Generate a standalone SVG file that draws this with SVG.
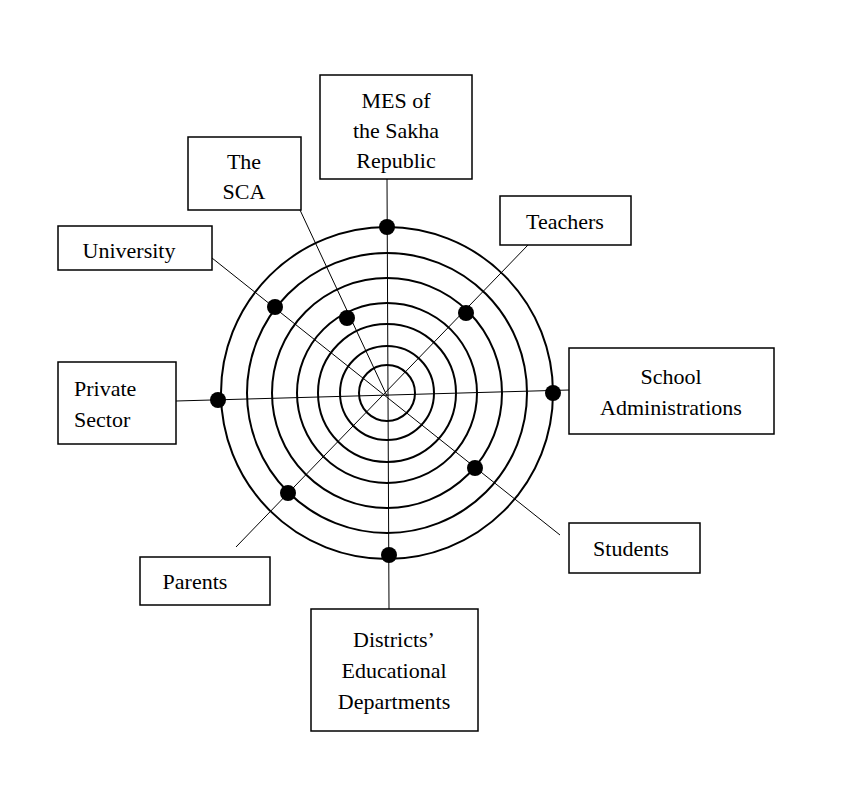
<svg xmlns="http://www.w3.org/2000/svg" width="849" height="789" viewBox="0 0 849 789">
<style>
.b{fill:#fff;stroke:#000;stroke-width:1.5}
.c{fill:none;stroke:#000;stroke-width:2}
.l{stroke:#000;stroke-width:1}
.d{fill:#000}
text{font-family:"Liberation Serif",serif;font-size:22px;text-anchor:middle}
</style>
<rect width="849" height="789" fill="#fff"/>
<g id="connectors">
<line class="l" x1="387" y1="179" x2="389" y2="609"/>
<line class="l" x1="176" y1="401" x2="569" y2="390"/>
<line class="l" x1="528" y1="245" x2="236" y2="547"/>
<line class="l" x1="212" y1="258" x2="560" y2="535"/>
<line class="l" x1="300" y1="210" x2="387" y2="396"/>
</g>
<g id="rings">
<circle class="c" cx="387" cy="393" r="28"/>
<circle class="c" cx="387" cy="393" r="47"/>
<circle class="c" cx="387" cy="393" r="69"/>
<circle class="c" cx="387" cy="393" r="90"/>
<circle class="c" cx="387" cy="393" r="115"/>
<circle class="c" cx="387" cy="393" r="140"/>
<circle class="c" cx="387" cy="393" r="166"/>
</g>
<g id="dots">
<circle class="d" cx="387" cy="227" r="8"/>
<circle class="d" cx="553" cy="393" r="8"/>
<circle class="d" cx="218" cy="400" r="8"/>
<circle class="d" cx="389" cy="555" r="8"/>
<circle class="d" cx="466" cy="313" r="8"/>
<circle class="d" cx="475" cy="468" r="8"/>
<circle class="d" cx="275" cy="307" r="8"/>
<circle class="d" cx="347" cy="318" r="8"/>
<circle class="d" cx="288" cy="493" r="8"/>
</g>
<g id="mes"><rect class="b" x="320" y="75" width="152" height="104"/><text x="396" y="108">MES of</text><text x="396" y="138">the Sakha</text><text x="396" y="168">Republic</text></g>
<g id="sca"><rect class="b" x="188" y="137" width="113" height="73"/><text x="244" y="169">The</text><text x="244" y="199">SCA</text></g>
<g id="teachers"><rect class="b" x="500" y="196" width="131" height="49"/><text x="565" y="229">Teachers</text></g>
<g id="university"><rect class="b" x="58" y="226" width="154" height="44"/><text x="129" y="258">University</text></g>
<g id="private"><rect class="b" x="58" y="362" width="118" height="82"/><text x="74" y="396" style="text-anchor:start">Private</text><text x="74" y="427" style="text-anchor:start">Sector</text></g>
<g id="school"><rect class="b" x="569" y="348" width="205" height="86"/><text x="671" y="384">School</text><text x="671" y="415">Administrations</text></g>
<g id="students"><rect class="b" x="569" y="523" width="131" height="50"/><text x="631" y="556">Students</text></g>
<g id="parents"><rect class="b" x="140" y="557" width="130" height="48"/><text x="195" y="589">Parents</text></g>
<g id="districts"><rect class="b" x="311" y="609" width="167" height="122"/><text x="394" y="647">Districts’</text><text x="394" y="678">Educational</text><text x="394" y="709">Departments</text></g>
</svg>
